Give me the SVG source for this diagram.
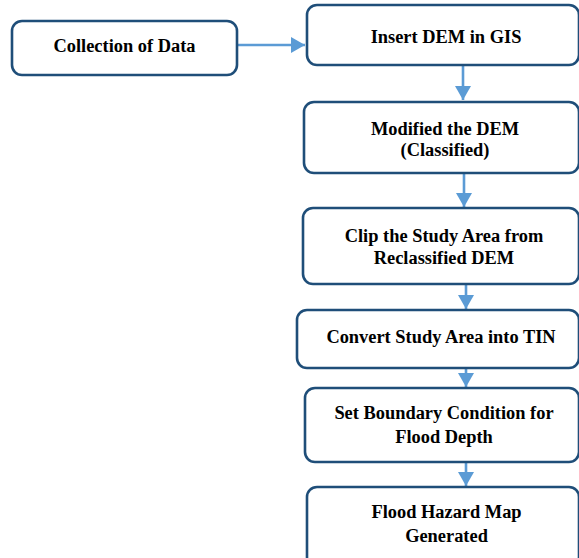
<svg xmlns="http://www.w3.org/2000/svg" width="579" height="558" viewBox="0 0 579 558">
<style>
.box{fill:#fff;stroke:#1F4E79;stroke-width:2.6}
.t{font-family:"Liberation Serif","Times New Roman",serif;font-weight:bold;font-size:18.4px;fill:#000;text-anchor:middle}
.c{stroke:#5B9BD5;stroke-width:2.6;fill:none}
</style>
<defs>
<marker id="ah" markerUnits="userSpaceOnUse" markerWidth="16" markerHeight="16" viewBox="0 0 14 16" refX="14" refY="8" orient="auto">
<path d="M0,0 L14,8 L0,16 Z" fill="#5B9BD5"/>
</marker>
</defs>
<rect width="579" height="558" fill="#fff"/>
<g id="connectors">
<line class="c" x1="237" y1="45" x2="305" y2="45" marker-end="url(#ah)"/>
<line class="c" x1="463" y1="65" x2="463" y2="100" marker-end="url(#ah)"/>
<line class="c" x1="464" y1="173" x2="464" y2="207" marker-end="url(#ah)"/>
<line class="c" x1="466" y1="284" x2="466" y2="309" marker-end="url(#ah)"/>
<line class="c" x1="466" y1="368" x2="466" y2="387" marker-end="url(#ah)"/>
<line class="c" x1="466" y1="462" x2="466" y2="486" marker-end="url(#ah)"/>
</g>
<g id="n1">
<rect class="box" x="12" y="21" width="225" height="54" rx="10"/>
<text class="t" x="124.5" y="52">Collection of Data</text>
</g>
<g id="n2">
<rect class="box" x="307" y="5" width="272" height="60" rx="10"/>
<text class="t" x="446" y="43">Insert DEM in GIS</text>
</g>
<g id="n3">
<rect class="box" x="304" y="102" width="275" height="71" rx="10"/>
<text class="t" x="445" y="135">Modified the DEM</text>
<text class="t" x="445" y="156">(Classified)</text>
</g>
<g id="n4">
<rect class="box" x="303" y="208" width="276" height="76" rx="10"/>
<text class="t" x="444" y="242">Clip the Study Area from</text>
<text class="t" x="444" y="264">Reclassified DEM</text>
</g>
<g id="n5">
<rect class="box" x="297" y="310" width="282" height="58" rx="10"/>
<text class="t" x="441" y="343">Convert Study Area into TIN</text>
</g>
<g id="n6">
<rect class="box" x="305" y="388" width="274" height="74" rx="10"/>
<text class="t" x="444" y="419">Set Boundary Condition for</text>
<text class="t" x="444" y="443">Flood Depth</text>
</g>
<g id="n7">
<rect class="box" x="307" y="487" width="272" height="80" rx="10"/>
<text class="t" x="446.5" y="518">Flood Hazard Map</text>
<text class="t" x="446.5" y="542">Generated</text>
</g>
</svg>
